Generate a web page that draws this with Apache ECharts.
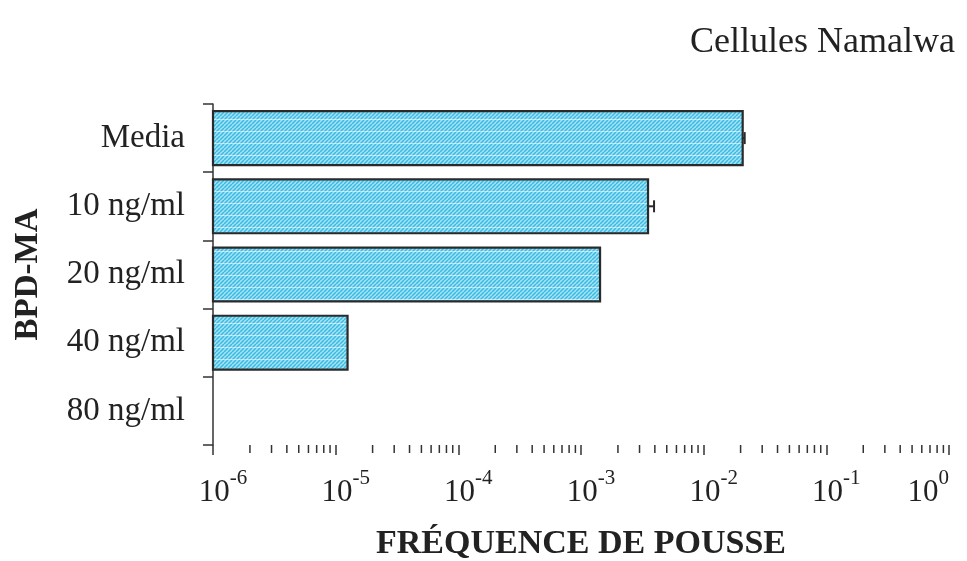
<!DOCTYPE html>
<html>
<head>
<meta charset="utf-8">
<script src="https://cdn.jsdelivr.net/npm/echarts@6/dist/echarts.min.js"></script>
<style>
html,body{margin:0;padding:0;background:#fff;}
#chart{width:967px;height:561px;}
</style>
</head>
<body>
<div id="chart"></div>
<script>
// ---- data ----
const categories = ['Media', '10 ng/ml', '20 ng/ml', '40 ng/ml', '80 ng/ml'];
const frequency = [0.0208, 0.00352, 0.00143, 1.25e-5, null];
const errorHigh = [0.0216, 0.00394, null, null, null];
const tickExponents = ['-6', '-5', '-4', '-3', '-2', '-1', '0'];
const decades = [1e-6, 1e-5, 1e-4, 1e-3, 1e-2, 1e-1];
const minorMantissas = [2, 3, 4, 5, 6, 7, 8, 9];

const minorTicks = [];
decades.forEach(d => minorMantissas.forEach(m => minorTicks.push([m * d])));

// hatch pattern
function makePattern() {
  const c = document.createElement('canvas');
  c.width = 4; c.height = 12;
  const g = c.getContext('2d');
  g.fillStyle = '#a3e2f4';
  g.fillRect(0, 0, 4, 12);
  g.strokeStyle = '#38bae4';
  g.lineWidth = 1.4;
  for (let k = -1; k < 4; k++) {
    g.beginPath();
    g.moveTo(0, 4 * k + 4);
    g.lineTo(4, 4 * k);
    g.stroke();
  }
  g.fillStyle = 'rgba(255,255,255,0.55)';
  g.fillRect(0, 11, 4, 1);
  return c;
}
const pattern = makePattern();

const SERIF = '"Liberation Serif", "DejaVu Serif", serif';

const barData = frequency.map((v, i) => [v, i]).filter(d => d[0] != null);
const errData = errorHigh.map((e, i) => [e, i, frequency[i]]).filter(d => d[0] != null);

const chart = echarts.init(document.getElementById('chart'), null, {renderer: 'canvas'});
chart.setOption({
  animation: false,
  backgroundColor: '#fff',
  title: {
    text: 'Cellules Namalwa',
    right: 7, top: 20,
    textStyle: {fontFamily: SERIF, fontWeight: 'normal', fontSize: 36, color: '#222'}
  },
  grid: {left: 213, right: 18, top: 104, bottom: 116, containLabel: false, outerBoundsMode: 'none'},
  xAxis: {
    type: 'log',
    logBase: 10,
    min: 1e-6, max: 1,
    splitLine: {show: false},
    axisLine: {lineStyle: {color: '#333', width: 1.5}},
    axisTick: {show: true, inside: false, length: 10, lineStyle: {color: '#333', width: 1.5}},
    axisLabel: {
      margin: 23,
      padding: [0, 0, 0, 20],
      alignMaxLabel: 'right',
      formatter: function (v) {
        const e = Math.round(Math.log10(v));
        return '{b|10}{e|' + tickExponents[e + 6] + '}';
      },
      rich: {
        b: {fontFamily: SERIF, fontSize: 31, color: '#222', lineHeight: 40, verticalAlign: 'bottom'},
        e: {fontFamily: SERIF, fontSize: 21, color: '#222', lineHeight: 40, verticalAlign: 'top'}
      }
    },
    name: 'FRÉQUENCE DE POUSSE',
    nameLocation: 'middle',
    nameGap: 82,
    nameTextStyle: {fontFamily: SERIF, fontWeight: 'bold', fontSize: 34, color: '#222'}
  },
  yAxis: {
    type: 'category',
    data: categories,
    inverse: true,
    axisLine: {lineStyle: {color: '#333', width: 1.5}},
    axisTick: {show: true, length: 10, lineStyle: {color: '#333', width: 1.5}},
    axisLabel: {margin: 28, padding: [16, 0, 0, 0], fontFamily: SERIF, fontSize: 33, color: '#222'},
    splitLine: {show: false},
    name: 'BPD-MA',
    nameLocation: 'middle',
    nameGap: 168,
    nameRotate: 90,
    nameTextStyle: {fontFamily: SERIF, fontWeight: 'bold', fontSize: 33, color: '#222'}
  },
  series: [
    {
      type: 'custom',
      name: 'bars',
      data: barData,
      encode: {x: 0, y: 1},
      renderItem: function (params, api) {
        const v = api.value(0), idx = api.value(1);
        const s = api.coord([1e-6, idx]);
        const e = api.coord([v, idx]);
        const h = api.size([0, 1])[1] * 0.79;
        return {
          type: 'rect',
          shape: {x: s[0], y: s[1] - h / 2, width: e[0] - s[0], height: h},
          style: {fill: {image: pattern, repeat: 'repeat'}, stroke: '#2a2a2a', lineWidth: 2.2}
        };
      }
    },
    {
      type: 'custom',
      name: 'errors',
      data: errData,
      encode: {x: 0, y: 1},
      renderItem: function (params, api) {
        const e = api.value(0), idx = api.value(1), v = api.value(2);
        const p1 = api.coord([v, idx]);
        const p2 = api.coord([e, idx]);
        return {
          type: 'group',
          children: [
            {type: 'line', shape: {x1: p1[0], y1: p1[1], x2: p2[0], y2: p2[1]}, style: {stroke: '#2a2a2a', lineWidth: 2}},
            {type: 'line', shape: {x1: p2[0], y1: p2[1] - 6, x2: p2[0], y2: p2[1] + 6}, style: {stroke: '#2a2a2a', lineWidth: 2}}
          ]
        };
      }
    },
    {
      type: 'custom',
      name: 'minorTicks',
      data: minorTicks,
      encode: {x: 0},
      renderItem: function (params, api) {
        const x = api.coord([api.value(0), 0])[0];
        const y = params.coordSys.y + params.coordSys.height;
        return {
          type: 'line',
          shape: {x1: x, y1: y, x2: x, y2: y + 8},
          style: {stroke: '#333', lineWidth: 1.5}
        };
      }
    }
  ]
});
</script>
</body>
</html>
